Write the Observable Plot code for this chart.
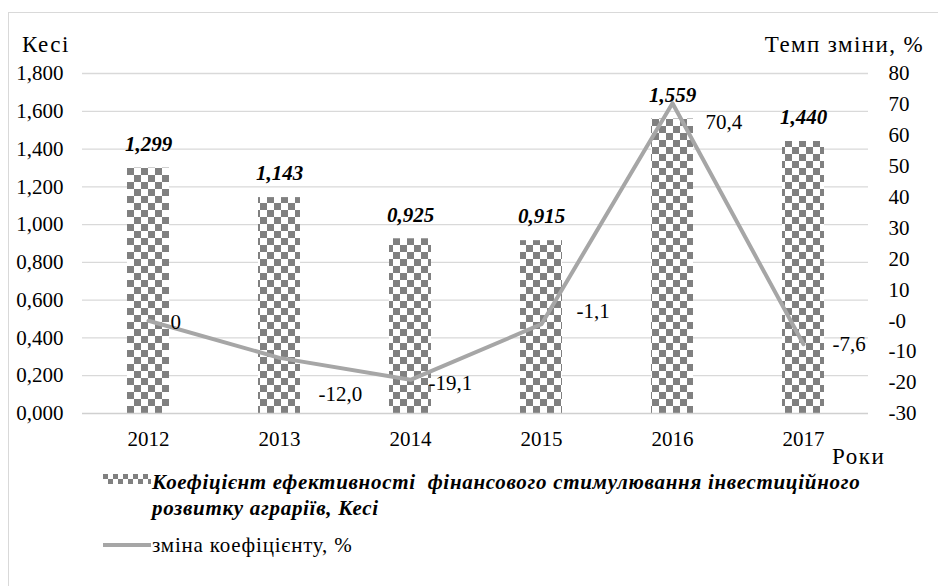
<!DOCTYPE html>
<html><head><meta charset="utf-8">
<script src="https://cdn.jsdelivr.net/npm/d3@7"></script>
<script src="https://cdn.jsdelivr.net/npm/@observablehq/plot@0.6"></script>
<style>
body{margin:0;background:#fff;font-family:'Liberation Serif','Times New Roman',serif;}
#wrap{position:relative;width:938px;height:586px;overflow:hidden;background:#fff;}
#frame{position:absolute;left:8px;top:12px;width:1000px;height:1000px;border:1px solid #d9d9d9;}
#chart{position:absolute;left:0;top:0;}
.t{position:absolute;color:#000;white-space:nowrap;line-height:1;font-family:'Liberation Serif','Times New Roman',serif;}
.bi{font-weight:bold;font-style:italic;}
</style></head><body>
<div id="wrap">
<div id="frame"></div>
<div id="chart"></div>
<div class="t" style="left:22px;top:33px;font-size:23px;letter-spacing:1.5px;">Кесі</div>
<div class="t" style="right:14px;top:33px;font-size:23px;letter-spacing:1.4px;">Темп зміни, %</div>
<div class="t" style="left:832px;top:445px;font-size:23px;letter-spacing:1.5px;">Роки</div>
<svg class="t" style="left:103px;top:474px;" width="48" height="12">
  <defs><pattern id="lgchk" patternUnits="userSpaceOnUse" width="10" height="10">
    <rect x="0" y="0" width="5" height="5" fill="#808080"/><rect x="5" y="5" width="5" height="5" fill="#808080"/></pattern></defs>
  <rect x="0" y="0" width="48" height="10" fill="url(#lgchk)"/>
</svg>
<div class="t bi" style="left:152px;top:472px;font-size:21px;letter-spacing:0.7px;">Коефіцієнт ефективності&nbsp; фінансового стимулювання інвестиційного</div>
<div class="t bi" style="left:152px;top:498px;font-size:21px;letter-spacing:0.7px;">розвитку аграріїв, Кесі</div>
<svg class="t" style="left:103px;top:541px;" width="48" height="8"><line x1="0" y1="4" x2="48" y2="4" stroke="#a6a6a6" stroke-width="4"/></svg>
<div class="t" style="left:152px;top:535px;font-size:21px;letter-spacing:0.8px;">зміна коефіцієнту, %</div>
</div>
<script>
const years = ["2012","2013","2014","2015","2016","2017"];
const kesi = [1.299, 1.143, 0.925, 0.915, 1.559, 1.440];
const change = [0, -12.0, -19.1, -1.1, 70.4, -7.6];
const leftTicks = [0, 0.2, 0.4, 0.6, 0.8, 1.0, 1.2, 1.4, 1.6, 1.8];
const rightTicks = [-30, -20, -10, 0, 10, 20, 30, 40, 50, 60, 70, 80];
// label nudges (layout only)
const nudgeX = [22, 39, 18, 35, 33, 29];
const nudgeY = [1, 36, 3, -13, 19, 0];

const leftMax = 1.8, rMin = -30, rMax = 80;
const toLeft = v => (v - rMin) / (rMax - rMin) * leftMax;
const fromLeft = v => Math.round(v / leftMax * (rMax - rMin) + rMin);
const fmt3 = v => v.toFixed(3).replace(".", ",");
const fmt1 = v => v === 0 ? "0" : v.toFixed(1).replace(".", ",");

const data = years.map((y, i) => ({year: y, kesi: kesi[i], pct: change[i], pl: toLeft(change[i]), nx: nudgeX[i], ny: nudgeY[i]}));

const labelMarks = data.map(d => Plot.text([d], {x: "year", y: "pl", text: d => fmt1(d.pct), textAnchor: "start", dx: d.nx, dy: d.ny, fontSize: 21}));

const chart = Plot.plot({
  width: 938, height: 586,
  marginTop: 73, marginBottom: 173, marginLeft: 82, marginRight: 70,
  style: {fontFamily: "'Liberation Serif', 'Times New Roman', serif", fontSize: "21px", color: "#000", background: "transparent"},
  x: {domain: years, paddingInner: 0.68, paddingOuter: 0.34, label: null},
  y: {domain: [0, leftMax], label: null},
  marks: [
    Plot.ruleY(leftTicks.slice(1), {stroke: "#d9d9d9", strokeWidth: 1.3}),
    Plot.barY(data, {x: "year", y: "kesi", fill: "url(#checker)"}),
    Plot.ruleY([0], {stroke: "#d0d0d0", strokeWidth: 1.6}),
    Plot.line(data, {x: "year", y: "pl", stroke: "#a6a6a6", strokeWidth: 4}),
    Plot.text(data, {x: "year", y: "kesi", text: d => fmt3(d.kesi), dy: -24, fontWeight: "bold", fontStyle: "italic", fontSize: 21}),
    ...labelMarks,
    Plot.axisY(leftTicks, {anchor: "left", tickSize: 0, tickPadding: 19, tickFormat: fmt3, label: null, fontSize: 21}),
    Plot.axisY(rightTicks.map(toLeft), {anchor: "right", tickSize: 0, tickPadding: 20, tickFormat: fromLeft, label: null, fontSize: 21}),
    Plot.axisX({tickSize: 0, tickPadding: 18, label: null, fontSize: 21})
  ]
});
const svg = d3.select(chart);
const defs = svg.insert("defs", ":first-child");
const pat = defs.append("pattern").attr("id", "checker").attr("patternUnits", "userSpaceOnUse").attr("width", 14).attr("height", 14).attr("x", 1).attr("y", 0);
pat.append("rect").attr("width", 14).attr("height", 14).attr("fill", "#fff");
pat.append("rect").attr("x", 0).attr("y", 0).attr("width", 7).attr("height", 7).attr("fill", "#808080");
pat.append("rect").attr("x", 7).attr("y", 7).attr("width", 7).attr("height", 7).attr("fill", "#808080");
document.getElementById("chart").appendChild(chart);
</script>
</body></html>
